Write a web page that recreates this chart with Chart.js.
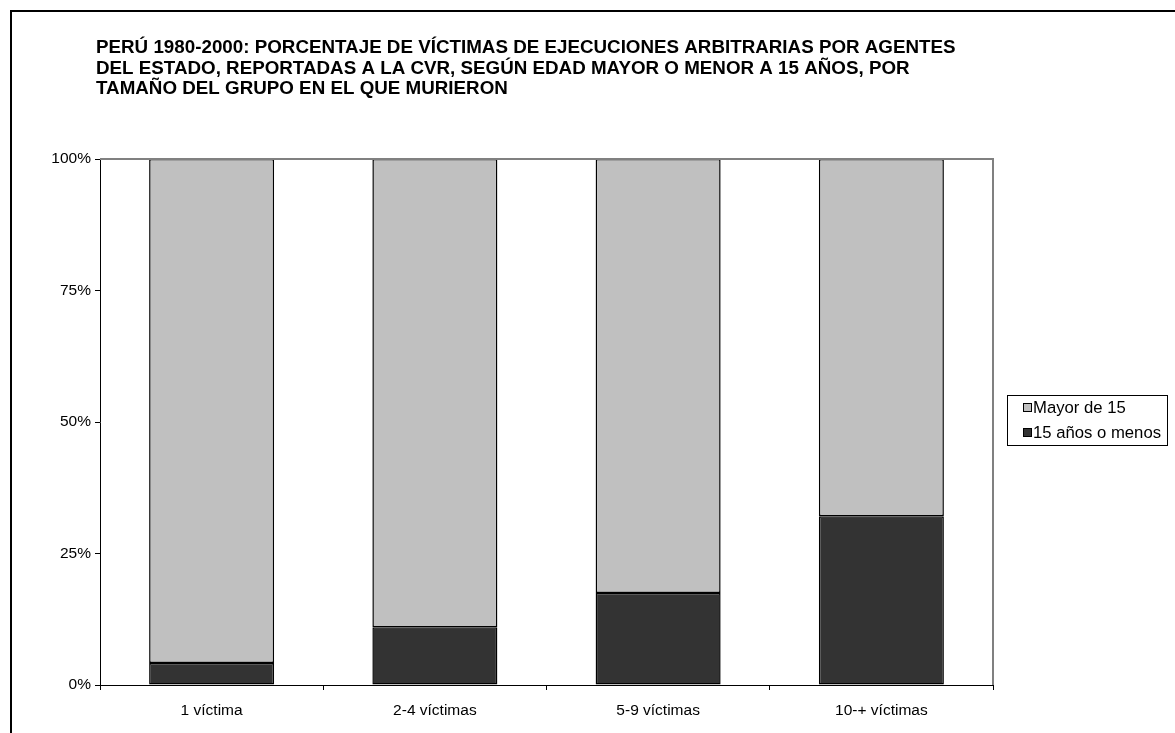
<!DOCTYPE html>
<html>
<head>
<meta charset="utf-8">
<script src="https://cdn.jsdelivr.net/npm/chart.js@4.4.0/dist/chart.umd.min.js"></script>
<style>
  html, body { margin: 0; padding: 0; background: #fff; }
  #wrap { width: 1175px; height: 733px; position: relative; }
</style>
</head>
<body>
<div id="wrap"><canvas id="chart"></canvas></div>
<script>
// data
const categories = ['1 víctima', '2-4 víctimas', '5-9 víctimas', '10-+ víctimas'];
const menores = [4.2, 11.0, 17.5, 32.1];   // 15 años o menos
const mayores = [95.8, 89.0, 82.5, 67.9];  // Mayor de 15
const yTicks = [0, 25, 50, 75, 100];
const titleLines = [
  'PERÚ 1980-2000: PORCENTAJE DE VÍCTIMAS DE EJECUCIONES ARBITRARIAS POR AGENTES',
  'DEL ESTADO, REPORTADAS A LA CVR, SEGÚN EDAD MAYOR O MENOR A 15 AÑOS, POR',
  'TAMAÑO DEL GRUPO EN EL QUE MURIERON'
];

const FONT = '"Liberation Sans", Arial, sans-serif';

// frame, title, plot border and legend box
const decor = {
  id: 'decor',
  beforeDraw(chart) {
    const ctx = chart.ctx;
    ctx.save();
    ctx.strokeStyle = '#000';
    ctx.lineWidth = 2;
    ctx.strokeRect(11, 11, 1300, 900);
    ctx.fillStyle = '#000';
    ctx.font = 'bold 18.8px ' + FONT;
    ctx.textBaseline = 'middle';
    titleLines.forEach((t, i) => ctx.fillText(t, 96, 48 + i * 20.5));
    ctx.restore();
  },
  afterDatasetsDraw(chart) {
    const ctx = chart.ctx;
    const a = chart.chartArea;
    ctx.save();
    ctx.strokeStyle = '#808080';
    ctx.lineWidth = 2;
    ctx.beginPath();
    ctx.moveTo(a.left, a.top);
    ctx.lineTo(a.right, a.top);
    ctx.lineTo(a.right, a.bottom);
    ctx.stroke();

    // legend
    ctx.strokeStyle = '#000';
    ctx.lineWidth = 1;
    ctx.strokeRect(1007.5, 395.5, 160, 50);
    ctx.font = '16.7px ' + FONT;
    ctx.textBaseline = 'middle';
    const items = chart.data.datasets.slice().reverse();
    items.forEach((ds, i) => {
      const y = 408 + i * 25;
      ctx.fillStyle = ds.backgroundColor;
      ctx.fillRect(1023.5, y - 4.5, 8, 8);
      ctx.strokeRect(1023.5, y - 4.5, 8, 8);
      ctx.fillStyle = '#000';
      ctx.fillText(ds.label, 1033, y);
    });
    ctx.restore();
  }
};

new Chart(document.getElementById('chart'), {
  type: 'bar',
  data: {
    labels: categories,
    datasets: [
      {
        label: '15 años o menos',
        data: menores,
        backgroundColor: '#333333',
        borderColor: '#000',
        borderWidth: 1.5,
        borderSkipped: false
      },
      {
        label: 'Mayor de 15',
        data: mayores,
        backgroundColor: '#c0c0c0',
        borderColor: '#000',
        borderWidth: 1.5,
        borderSkipped: false
      }
    ]
  },
  options: {
    responsive: true,
    maintainAspectRatio: false,
    animation: false,
    devicePixelRatio: 1,
    layout: { padding: { left: 40, top: 159, right: 182, bottom: 18 } },
    datasets: { bar: { categoryPercentage: 1, barPercentage: 0.56 } },
    plugins: {
      legend: { display: false },
      title: { display: false },
      tooltip: { enabled: false }
    },
    scales: {
      x: {
        stacked: true,
        afterFit(s) { s.height = 30; },
        grid: { offset: true, drawOnChartArea: false, color: '#000', tickLength: 5 },
        border: { color: '#000', width: 1 },
        ticks: { color: '#000', font: { family: FONT, size: 15.5 }, padding: 11 }
      },
      y: {
        stacked: true,
        min: 0,
        max: 100,
        afterFit(s) { s.width = 60; },
        afterBuildTicks(s) { s.ticks = yTicks.map(v => ({ value: v })); },
        grid: { drawOnChartArea: false, color: '#000', tickLength: 5 },
        border: { color: '#000', width: 1 },
        ticks: {
          color: '#000',
          font: { family: FONT, size: 15.5 },
          padding: 4,
          callback: v => v + '%'
        }
      }
    }
  },
  plugins: [decor]
});
</script>
</body>
</html>
